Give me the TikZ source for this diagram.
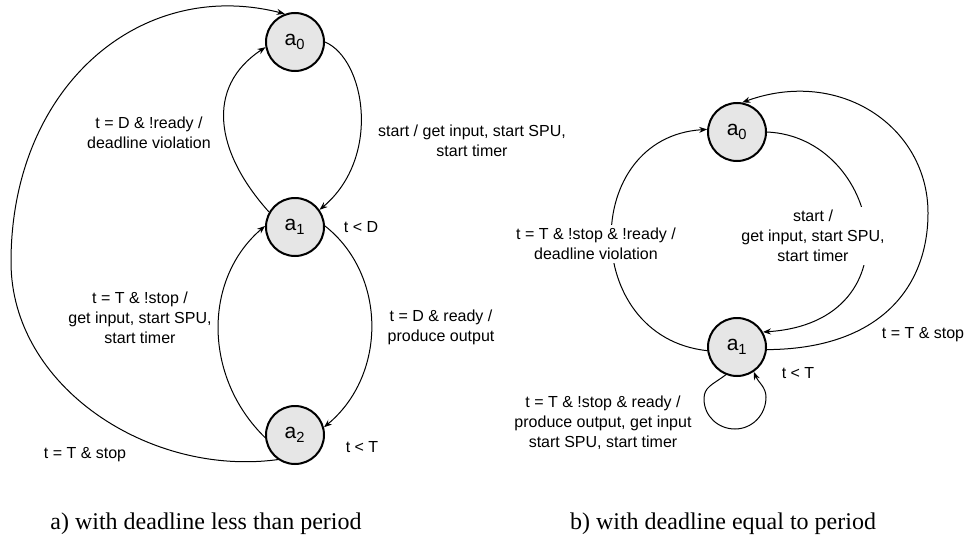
\documentclass[tikz,border=0pt]{standalone}
\usepackage{fontspec}
\setmainfont{Liberation Sans}
\newfontfamily\capfont{Liberation Serif}
\usetikzlibrary{arrows.meta}
\definecolor{nodefill}{HTML}{E6E6E6}
\begin{document}
\begin{tikzpicture}[x=0.75pt,y=0.75pt,
  state/.style={circle,draw,line width=1.5pt,fill=nodefill,minimum size=43.5pt,inner sep=0pt,font=\fontsize{15.75}{18}\selectfont},
  edge/.style={line width=0.75pt,-{Stealth[length=6pt,width=4.5pt]}},
  lbl/.style={align=center,font=\fontsize{12}{15}\selectfont,inner sep=2pt},
  captext/.style={font=\capfont\fontsize{18}{20}\selectfont,anchor=base}]
\useasboundingbox (0,0) rectangle (970,537);
% left diagram
\node[state] (la0) at (295,495) {a\textsubscript{0}};
\node[state] (la1) at (295,310) {a\textsubscript{1}};
\node[state] (la2) at (295,102) {a\textsubscript{2}};
\draw[edge] (la0.0) .. controls (365,478) and (382,380) .. (la1.35);
\draw[edge] (la1.150) .. controls (215,385) and (205,450) .. (la0.190);
\draw[edge] (la1.2) .. controls (387,262) and (387,162) .. (la2.15);
\draw[edge] (la2.185) .. controls (203,160) and (203,258) .. (la1.178);
\draw[edge] (la2.235) .. controls (150,60) and (11,150) .. (11,275) .. controls (11,450) and (140,560) .. (la0.110);
\node[lbl] (l1) at (149,404) {t = D \& !ready /\\deadline violation};
\node[lbl] (l2) at (472,396) {start / get input, start SPU,\\start timer};
\node[lbl] (l3) at (361,310) {t < D};
\node[lbl] (l4) at (140,219) {t = T \& !stop /\\get input, start SPU,\\start timer};
\node[lbl] (l5) at (441,210) {t = D \& ready /\\produce output};
\node[lbl] (l6) at (362,90) {t < T};
\node[lbl] (l7) at (85,82) {t = T \& stop};
\node[captext] (ca) at (206,8) {a) with deadline less than period};
% right diagram
\node[state] (ra0) at (737,405) {a\textsubscript{0}};
\node[state] (ra1) at (737,190) {a\textsubscript{1}};
\draw[edge] (ra0.0) .. controls (880,400) and (919,215) .. (ra1.30);
\draw[edge] (ra1.187) .. controls (580,200) and (580,400) .. (ra0.175);
\draw[edge] (ra1.-5) .. controls (880,188) and (928,250) .. (928,324) .. controls (928,410) and (840,470) .. (ra0.80);
\draw[edge] (ra1.248) .. controls (712,152) and (704,150) .. (704,138) .. controls (704,121) and (718,108) .. (735,108) .. controls (752,108) and (766,122) .. (766,140) .. controls (766,150) and (758,155) .. (ra1.304);
\node[lbl,fill=white] (r1) at (813,301) {start /\\get input, start SPU,\\start timer};
\node[lbl,fill=white] (r2) at (596,293) {t = T \& !stop \& !ready /\\deadline violation};
\node[lbl] (r3) at (923,202) {t = T \& stop};
\node[lbl] (r4) at (798,164) {t < T};
\node[lbl] (r5) at (603,114) {t = T \& !stop \& ready /\\produce output, get input\\start SPU, start timer};
\node[captext] (cb) at (723,8) {b) with deadline equal to period};
\end{tikzpicture}
\end{document}
